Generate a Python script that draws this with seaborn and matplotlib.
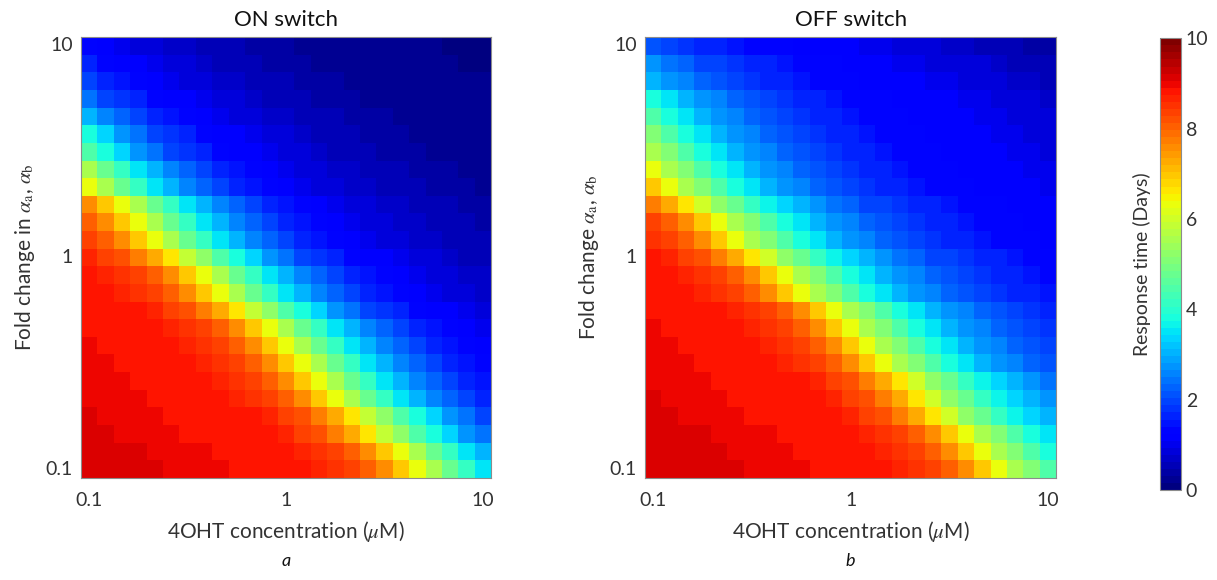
import numpy as np
import pandas as pd
import seaborn as sns
import matplotlib as mpl
import matplotlib.pyplot as plt

# %% DATA (response time in days; top row = fold change 10)

conc = np.logspace(-1, 1, 25)    # 4OHT concentration (uM), columns
fold = np.logspace(1, -1, 25)    # fold change, rows from top to bottom

on_switch = [
    [1.3,1.2,1.0,0.9,0.8,0.7,0.7,0.6,0.5,0.5,0.4,0.4,0.4,0.3,0.3,0.3,0.3,0.2,0.2,0.2,0.2,0.2,0.1,0.1,0.1],
    [1.6,1.4,1.2,1.1,1.0,0.8,0.8,0.7,0.6,0.6,0.5,0.4,0.4,0.4,0.3,0.3,0.3,0.3,0.2,0.2,0.2,0.2,0.2,0.1,0.1],
    [1.9,1.7,1.5,1.3,1.2,1.0,0.9,0.8,0.7,0.7,0.6,0.5,0.5,0.4,0.4,0.4,0.3,0.3,0.3,0.3,0.2,0.2,0.2,0.2,0.2],
    [2.4,2.0,1.8,1.6,1.4,1.2,1.1,1.0,0.8,0.8,0.7,0.6,0.6,0.5,0.4,0.4,0.4,0.3,0.3,0.3,0.3,0.2,0.2,0.2,0.2],
    [3.0,2.6,2.2,1.9,1.7,1.5,1.3,1.2,1.0,0.9,0.8,0.7,0.7,0.6,0.5,0.5,0.4,0.4,0.4,0.3,0.3,0.3,0.3,0.2,0.2],
    [3.8,3.3,2.8,2.4,2.0,1.8,1.6,1.4,1.2,1.1,1.0,0.8,0.8,0.7,0.6,0.6,0.5,0.4,0.4,0.4,0.3,0.3,0.3,0.3,0.2],
    [4.4,3.8,3.3,2.8,2.4,2.0,1.8,1.6,1.4,1.2,1.1,1.0,0.8,0.8,0.7,0.6,0.6,0.5,0.4,0.4,0.4,0.3,0.3,0.3,0.3],
    [5.5,4.8,4.1,3.5,3.0,2.6,2.2,1.9,1.7,1.5,1.3,1.2,1.0,0.9,0.8,0.7,0.7,0.6,0.5,0.5,0.4,0.4,0.4,0.3,0.3],
    [6.3,5.5,4.8,4.1,3.5,3.0,2.6,2.2,1.9,1.7,1.5,1.3,1.2,1.0,0.9,0.8,0.7,0.7,0.6,0.5,0.5,0.4,0.4,0.4,0.3],
    [7.6,7.0,6.3,5.5,4.8,4.1,3.5,3.0,2.6,2.2,1.9,1.7,1.5,1.3,1.2,1.0,0.9,0.8,0.7,0.7,0.6,0.5,0.5,0.4,0.4],
    [8.0,7.6,7.0,6.3,5.5,4.8,4.1,3.5,3.0,2.6,2.2,1.9,1.7,1.5,1.3,1.2,1.0,0.9,0.8,0.7,0.7,0.6,0.5,0.5,0.4],
    [8.3,8.0,7.6,7.0,6.3,5.5,4.8,4.1,3.5,3.0,2.6,2.2,1.9,1.7,1.5,1.3,1.2,1.0,0.9,0.8,0.7,0.7,0.6,0.5,0.5],
    [8.6,8.4,8.2,7.8,7.3,6.7,5.9,5.2,4.4,3.8,3.3,2.8,2.4,2.0,1.8,1.6,1.4,1.2,1.1,1.0,0.8,0.8,0.7,0.6,0.6],
    [8.8,8.7,8.5,8.3,8.0,7.6,7.0,6.3,5.5,4.8,4.1,3.5,3.0,2.6,2.2,1.9,1.7,1.5,1.3,1.2,1.0,0.9,0.8,0.7,0.7],
    [8.9,8.8,8.7,8.5,8.3,8.0,7.6,7.0,6.3,5.5,4.8,4.1,3.5,3.0,2.6,2.2,1.9,1.7,1.5,1.3,1.2,1.0,0.9,0.8,0.7],
    [8.9,8.9,8.8,8.8,8.6,8.4,8.2,7.8,7.3,6.7,5.9,5.2,4.4,3.8,3.3,2.8,2.4,2.0,1.8,1.6,1.4,1.2,1.1,1.0,0.8],
    [8.9,8.9,8.9,8.9,8.8,8.7,8.5,8.3,8.0,7.6,7.0,6.3,5.5,4.8,4.1,3.5,3.0,2.6,2.2,1.9,1.7,1.5,1.3,1.2,1.0],
    [9.0,8.9,8.9,8.9,8.9,8.8,8.7,8.5,8.3,8.0,7.6,7.0,6.3,5.5,4.8,4.1,3.5,3.0,2.6,2.2,1.9,1.7,1.5,1.3,1.2],
    [9.0,9.0,8.9,8.9,8.9,8.9,8.8,8.7,8.5,8.3,8.0,7.6,7.0,6.3,5.5,4.8,4.1,3.5,3.0,2.6,2.2,1.9,1.7,1.5,1.3],
    [9.0,9.0,9.0,8.9,8.9,8.9,8.9,8.8,8.7,8.5,8.3,8.0,7.6,7.0,6.3,5.5,4.8,4.1,3.5,3.0,2.6,2.2,1.9,1.7,1.5],
    [9.0,9.0,9.0,9.0,8.9,8.9,8.9,8.9,8.8,8.7,8.5,8.3,8.0,7.6,7.0,6.3,5.5,4.8,4.1,3.5,3.0,2.6,2.2,1.9,1.7],
    [9.1,9.0,9.0,9.0,9.0,8.9,8.9,8.9,8.9,8.8,8.8,8.6,8.4,8.2,7.8,7.3,6.7,5.9,5.2,4.4,3.8,3.3,2.8,2.4,2.0],
    [9.1,9.1,9.0,9.0,9.0,9.0,8.9,8.9,8.9,8.9,8.8,8.8,8.6,8.4,8.2,7.8,7.3,6.7,5.9,5.2,4.4,3.8,3.3,2.8,2.4],
    [9.1,9.1,9.1,9.1,9.0,9.0,9.0,9.0,8.9,8.9,8.9,8.9,8.8,8.7,8.5,8.3,8.0,7.6,7.0,6.3,5.5,4.8,4.1,3.5,3.0],
    [9.2,9.1,9.1,9.1,9.1,9.0,9.0,9.0,9.0,8.9,8.9,8.9,8.9,8.8,8.7,8.5,8.3,8.0,7.6,7.0,6.3,5.5,4.8,4.1,3.5],
]

off_switch = [
    [2.1,2.0,1.8,1.7,1.6,1.5,1.4,1.4,1.3,1.2,1.2,1.1,1.1,1.0,1.0,0.9,0.9,0.8,0.7,0.7,0.6,0.5,0.5,0.4,0.4],
    [2.7,2.4,2.2,2.0,1.9,1.8,1.7,1.6,1.5,1.4,1.3,1.3,1.2,1.2,1.1,1.0,1.0,0.9,0.9,0.9,0.8,0.7,0.6,0.6,0.5],
    [3.1,2.8,2.5,2.3,2.1,2.0,1.8,1.7,1.6,1.5,1.4,1.4,1.3,1.2,1.2,1.1,1.1,1.0,1.0,0.9,0.9,0.8,0.7,0.7,0.6],
    [3.9,3.5,3.1,2.8,2.5,2.3,2.1,2.0,1.8,1.7,1.6,1.5,1.4,1.4,1.3,1.2,1.2,1.1,1.1,1.0,1.0,0.9,0.9,0.8,0.7],
    [4.4,3.9,3.5,3.1,2.8,2.5,2.3,2.1,2.0,1.8,1.7,1.6,1.5,1.4,1.4,1.3,1.2,1.2,1.1,1.1,1.0,1.0,0.9,0.9,0.8],
    [5.0,4.4,3.9,3.5,3.1,2.8,2.5,2.3,2.1,2.0,1.8,1.7,1.6,1.5,1.4,1.4,1.3,1.2,1.2,1.1,1.1,1.0,1.0,0.9,0.9],
    [5.6,5.0,4.4,3.9,3.5,3.1,2.8,2.5,2.3,2.1,2.0,1.8,1.7,1.6,1.5,1.4,1.4,1.3,1.2,1.2,1.1,1.1,1.0,1.0,0.9],
    [6.3,5.6,5.0,4.4,3.9,3.5,3.1,2.8,2.5,2.3,2.1,2.0,1.8,1.7,1.6,1.5,1.4,1.4,1.3,1.2,1.2,1.1,1.1,1.0,1.0],
    [7.0,6.3,5.6,5.0,4.4,3.9,3.5,3.1,2.8,2.5,2.3,2.1,2.0,1.8,1.7,1.6,1.5,1.4,1.4,1.3,1.2,1.2,1.1,1.1,1.0],
    [7.8,7.3,6.7,6.0,5.3,4.7,4.2,3.7,3.3,3.0,2.7,2.4,2.2,2.0,1.9,1.8,1.7,1.6,1.5,1.4,1.3,1.3,1.2,1.2,1.1],
    [8.3,8.0,7.6,7.0,6.3,5.6,5.0,4.4,3.9,3.5,3.1,2.8,2.5,2.3,2.1,2.0,1.8,1.7,1.6,1.5,1.4,1.4,1.3,1.2,1.2],
    [8.5,8.3,8.0,7.6,7.0,6.3,5.6,5.0,4.4,3.9,3.5,3.1,2.8,2.5,2.3,2.1,2.0,1.8,1.7,1.6,1.5,1.4,1.4,1.3,1.2],
    [8.8,8.6,8.4,8.2,7.8,7.3,6.7,6.0,5.3,4.7,4.2,3.7,3.3,3.0,2.7,2.4,2.2,2.0,1.9,1.8,1.7,1.6,1.5,1.4,1.3],
    [8.9,8.8,8.7,8.5,8.3,8.0,7.6,7.0,6.3,5.6,5.0,4.4,3.9,3.5,3.1,2.8,2.5,2.3,2.1,2.0,1.8,1.7,1.6,1.5,1.4],
    [8.9,8.9,8.8,8.7,8.5,8.3,8.0,7.6,7.0,6.3,5.6,5.0,4.4,3.9,3.5,3.1,2.8,2.5,2.3,2.1,2.0,1.8,1.7,1.6,1.5],
    [8.9,8.9,8.9,8.9,8.8,8.7,8.5,8.3,8.0,7.6,7.0,6.3,5.6,5.0,4.4,3.9,3.5,3.1,2.8,2.5,2.3,2.1,2.0,1.8,1.7],
    [9.0,8.9,8.9,8.9,8.9,8.8,8.7,8.5,8.3,8.0,7.6,7.0,6.3,5.6,5.0,4.4,3.9,3.5,3.1,2.8,2.5,2.3,2.1,2.0,1.8],
    [9.0,9.0,8.9,8.9,8.9,8.9,8.8,8.7,8.5,8.3,8.0,7.6,7.0,6.3,5.6,5.0,4.4,3.9,3.5,3.1,2.8,2.5,2.3,2.1,2.0],
    [9.0,9.0,9.0,8.9,8.9,8.9,8.9,8.8,8.7,8.5,8.3,8.0,7.6,7.0,6.3,5.6,5.0,4.4,3.9,3.5,3.1,2.8,2.5,2.3,2.1],
    [9.0,9.0,9.0,9.0,8.9,8.9,8.9,8.9,8.8,8.8,8.6,8.4,8.2,7.8,7.3,6.7,6.0,5.3,4.7,4.2,3.7,3.3,3.0,2.7,2.4],
    [9.1,9.0,9.0,9.0,9.0,8.9,8.9,8.9,8.9,8.8,8.8,8.6,8.4,8.2,7.8,7.3,6.7,6.0,5.3,4.7,4.2,3.7,3.3,3.0,2.7],
    [9.1,9.1,9.0,9.0,9.0,9.0,8.9,8.9,8.9,8.9,8.8,8.8,8.6,8.4,8.2,7.8,7.3,6.7,6.0,5.3,4.7,4.2,3.7,3.3,3.0],
    [9.1,9.1,9.1,9.1,9.0,9.0,9.0,9.0,8.9,8.9,8.9,8.9,8.8,8.7,8.5,8.3,8.0,7.6,7.0,6.3,5.6,5.0,4.4,3.9,3.5],
    [9.1,9.1,9.1,9.1,9.1,9.0,9.0,9.0,9.0,8.9,8.9,8.9,8.9,8.8,8.7,8.5,8.3,8.0,7.6,7.0,6.3,5.6,5.0,4.4,3.9],
    [9.2,9.1,9.1,9.1,9.1,9.1,9.0,9.0,9.0,9.0,8.9,8.9,8.9,8.9,8.8,8.7,8.5,8.3,8.0,7.6,7.0,6.3,5.6,5.0,4.4],
]

titles = ['ON switch', 'OFF switch']
ylabels = ['Fold change in $\\alpha_\\mathrm{a}$, $\\alpha_\\mathrm{b}$',
           'Fold change $\\alpha_\\mathrm{a}$, $\\alpha_\\mathrm{b}$']
panel_letters = ['a', 'b']
tick_labels = ['0.1', '1', '10']

# %% PLOT

sns.set_theme(style='white')
plt.rcParams['font.family'] = ['Lato', 'DejaVu Sans']
plt.rcParams['mathtext.fontset'] = 'stix'
text_col = '#333333'

fig = plt.figure(figsize=(12.17, 5.8), dpi=100)
ax_on = fig.add_axes([0.0666, 0.176, 0.337, 0.760])
ax_off = fig.add_axes([0.530, 0.176, 0.338, 0.760])
cax = fig.add_axes([0.953, 0.155, 0.0173, 0.779])

cmap = mpl.colormaps['jet'].resampled(64)

for i, (ax, values) in enumerate(zip([ax_on, ax_off], [on_switch, off_switch])):
    df = pd.DataFrame(values, index=fold, columns=conc)
    sns.heatmap(df, ax=ax, cmap=cmap, vmin=0, vmax=10,
                cbar=(i == 0), cbar_ax=cax if i == 0 else None)

    ax.set_xticks([0.5, 12.5, 24.5])
    ax.set_xticklabels(tick_labels, rotation=0)
    ax.set_yticks([0.5, 12.5, 24.5])
    ax.set_yticklabels(tick_labels[::-1], rotation=0)
    ax.tick_params(direction='in', length=4, width=0.6, color='#666666',
                   labelsize=14, labelcolor=text_col,
                   bottom=True, left=True, top=True, right=True,
                   labeltop=False, labelright=False)
    ax.tick_params(axis='x', pad=10)
    ax.tick_params(axis='y', pad=6)
    for sp in ax.spines.values():
        sp.set_visible(True)
        sp.set_color('#8c8c8c')
        sp.set_linewidth(0.8)

    ax.set_title(titles[i], fontsize=16, color='#111111', pad=8)
    ax.set_xlabel('4OHT concentration ($\\mu$M)', fontsize=15, color=text_col, labelpad=7)
    ax.set_ylabel(ylabels[i], fontsize=15, color=text_col, labelpad=6)

# colour bar
cb = ax_on.collections[0].colorbar
cb.set_ticks([0, 2, 4, 6, 8, 10])
cb.ax.tick_params(labelsize=14, labelcolor=text_col, length=3, width=0.6,
                  color='#666666', direction='in', right=True)
cb.outline.set_visible(True)
cb.outline.set_edgecolor('#8c8c8c')
cb.outline.set_linewidth(0.8)
cb.ax.yaxis.set_label_position('left')
cb.set_label('Response time (Days)', fontsize=14, color=text_col, labelpad=6)

# panel letters
for ax, letter in zip([ax_on, ax_off], panel_letters):
    pos = ax.get_position()
    fig.text(pos.x0 + pos.width / 2, 0.025, letter, style='italic',
             fontsize=13, ha='center', color='#111111')

fig.savefig('out.png', dpi=100)
